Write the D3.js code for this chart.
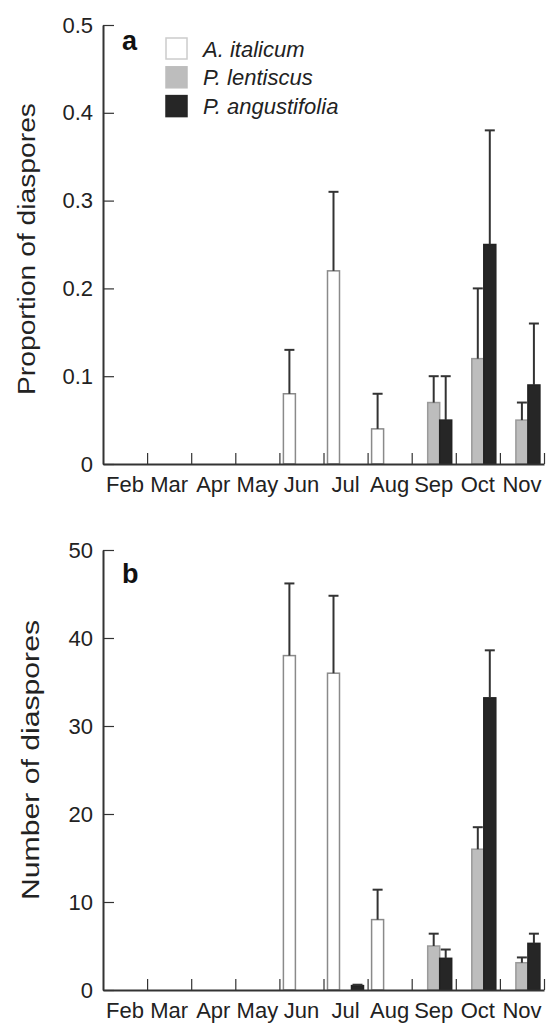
<!DOCTYPE html>
<html>
<head>
<meta charset="utf-8">
<script src="https://cdn.jsdelivr.net/npm/d3@7"></script>
<style>
  body { margin: 0; background: #fff; }
  svg { display: block; font-family: "Liberation Sans", Arial, sans-serif; }
  .axis path, .axis line { stroke: #333; }
  .axis text { fill: #222; font-size: 22px; }
</style>
</head>
<body>
<svg id="chart" width="549" height="1024"></svg>
<script>
// months along the x axis
var months = ['Feb','Mar','Apr','May','Jun','Jul','Aug','Sep','Oct','Nov'];
var species = ['A. italicum','P. lentiscus','P. angustifolia'];

// panel a : proportion of diaspores (mean, upper error)
var propItalicum      = [null,null,null,null,0.08,0.22,0.04,null,null,null];
var propItalicumErr   = [null,null,null,null,0.05,0.09,0.04,null,null,null];
var propLentiscus     = [null,null,null,null,null,null,null,0.07,0.12,0.05];
var propLentiscusErr  = [null,null,null,null,null,null,null,0.03,0.08,0.02];
var propAngust        = [null,null,null,null,null,null,null,0.05,0.25,0.09];
var propAngustErr     = [null,null,null,null,null,null,null,0.05,0.13,0.07];
var propTicks = [0,0.1,0.2,0.3,0.4,0.5];

// panel b : number of diaspores
var numItalicum      = [null,null,null,null,38,36,8,null,null,null];
var numItalicumErr   = [null,null,null,null,8.2,8.8,3.4,null,null,null];
var numLentiscus     = [null,null,null,null,null,null,null,5,16,3.1];
var numLentiscusErr  = [null,null,null,null,null,null,null,1.4,2.5,0.6];
var numAngust        = [null,null,null,null,null,0.5,null,3.6,33.2,5.3];
var numAngustErr     = [null,null,null,null,null,0.1,null,1.0,5.4,1.1];
var numTicks = [0,10,20,30,40,50];

var fills   = ['#ffffff','#bdbdbd','#262626'];
var strokes = ['#8a8a8a','#9a9a9a','#222222'];

var svg = d3.select('#chart');
var left = 103, right = 544;

function drawPanel(opt) {
	var g = svg.append('g');
	var x = d3.scaleBand().domain(months).range([left,right]).padding(0);
	var xs = d3.scaleBand().domain([0,1,2]).range([4,40]).padding(0);
	var y = d3.scaleLinear().domain([0,opt.max]).range([opt.bottom,opt.top]);
	var edges = d3.scaleLinear().domain([0,months.length]).range([left,right]);

	var rows = [];
	opt.series.forEach(function(s,k){
		s.vals.forEach(function(v,i){
			if (v !== null) rows.push({k:k, m:months[i], v:v, e:s.errs[i]});
		});
	});

	// bars
	g.selectAll('.bar').data(rows).enter().append('rect')
		.attr('class','bar')
		.attr('x', function(d){ return x(d.m) + xs(d.k); })
		.attr('width', xs.bandwidth())
		.attr('y', function(d){ return y(d.v); })
		.attr('height', function(d){ return y(0) - y(d.v); })
		.attr('fill', function(d){ return fills[d.k]; })
		.attr('stroke', function(d){ return strokes[d.k]; })
		.attr('stroke-width', 1.5);

	// upper error bars
	var err = g.selectAll('.err').data(rows).enter().append('g').attr('class','err')
		.attr('stroke','#333').attr('stroke-width',2);
	err.append('line')
		.attr('x1', function(d){ return x(d.m) + xs(d.k) + xs.bandwidth()/2; })
		.attr('x2', function(d){ return x(d.m) + xs(d.k) + xs.bandwidth()/2; })
		.attr('y1', function(d){ return y(d.v); })
		.attr('y2', function(d){ return y(d.v + d.e); });
	err.append('line')
		.attr('x1', function(d){ return x(d.m) + xs(d.k) + xs.bandwidth()/2 - 5; })
		.attr('x2', function(d){ return x(d.m) + xs(d.k) + xs.bandwidth()/2 + 5; })
		.attr('y1', function(d){ return y(d.v + d.e); })
		.attr('y2', function(d){ return y(d.v + d.e); });

	// y axis, ticks pointing inward
	var ya = g.append('g').attr('class','axis').attr('transform','translate(' + left + ',0)')
		.call(d3.axisLeft(y).tickValues(opt.ticks).tickSizeInner(-11).tickSizeOuter(0)
			.tickPadding(10).tickFormat(d3.format('~g')));
	ya.select('.domain').attr('stroke-width',2);
	ya.selectAll('.tick line').attr('stroke-width',1.2).attr('stroke','#555');

	// x axis: separators between months
	var xe = g.append('g').attr('class','axis').attr('transform','translate(0,' + opt.bottom + ')')
		.call(d3.axisBottom(edges).tickValues(d3.range(1, months.length + 1))
			.tickSizeInner(-11).tickSizeOuter(0).tickFormat(''));
	xe.select('.domain').attr('stroke-width',2);
	xe.selectAll('.tick line').attr('stroke-width',1.2).attr('stroke','#555');

	// x axis: month labels
	var xl = g.append('g').attr('class','axis').attr('transform','translate(0,' + opt.bottom + ')')
		.call(d3.axisBottom(x).tickSize(0).tickPadding(12));
	xl.select('.domain').remove();
	xl.selectAll('text').attr('font-size',23);

	// y title
	g.append('text')
		.attr('transform','translate(' + opt.titleX + ',' + opt.titleY + ') rotate(-90)')
		.attr('text-anchor','middle')
		.attr('font-size',23)
		.attr('fill','#222')
		.attr('textLength',opt.titleLen)
		.attr('lengthAdjust','spacingAndGlyphs')
		.text(opt.title);

	// panel letter
	g.append('text')
		.attr('x',122).attr('y',opt.letterY)
		.attr('font-size',27).attr('font-weight','bold').attr('fill','#111')
		.text(opt.letter);
}

drawPanel({
	max: 0.5, top: 25, bottom: 464, ticks: propTicks, letter: 'a', letterY: 50,
	title: 'Proportion of diaspores', titleX: 35, titleY: 249, titleLen: 292,
	series: [
		{vals: propItalicum, errs: propItalicumErr},
		{vals: propLentiscus, errs: propLentiscusErr},
		{vals: propAngust, errs: propAngustErr}
	]
});

drawPanel({
	max: 50, top: 550, bottom: 990, ticks: numTicks, letter: 'b', letterY: 583,
	title: 'Number of diaspores', titleX: 39, titleY: 760, titleLen: 280,
	series: [
		{vals: numItalicum, errs: numItalicumErr},
		{vals: numLentiscus, errs: numLentiscusErr},
		{vals: numAngust, errs: numAngustErr}
	]
});

// legend (panel a)
var legend = svg.append('g').selectAll('g').data(species).enter().append('g')
	.attr('transform', function(d,i){ return 'translate(166,' + (38 + i*28.8) + ')'; });
legend.append('rect')
	.attr('width',21).attr('height',21)
	.attr('fill', function(d,i){ return fills[i]; })
	.attr('stroke', function(d,i){ return i === 0 ? '#cccccc' : fills[i]; })
	.attr('stroke-width',1.5);
legend.append('text')
	.attr('x',37).attr('y',18.5)
	.attr('font-size',22).attr('font-style','italic').attr('fill','#222')
	.text(function(d){ return d; });
</script>
</body>
</html>
